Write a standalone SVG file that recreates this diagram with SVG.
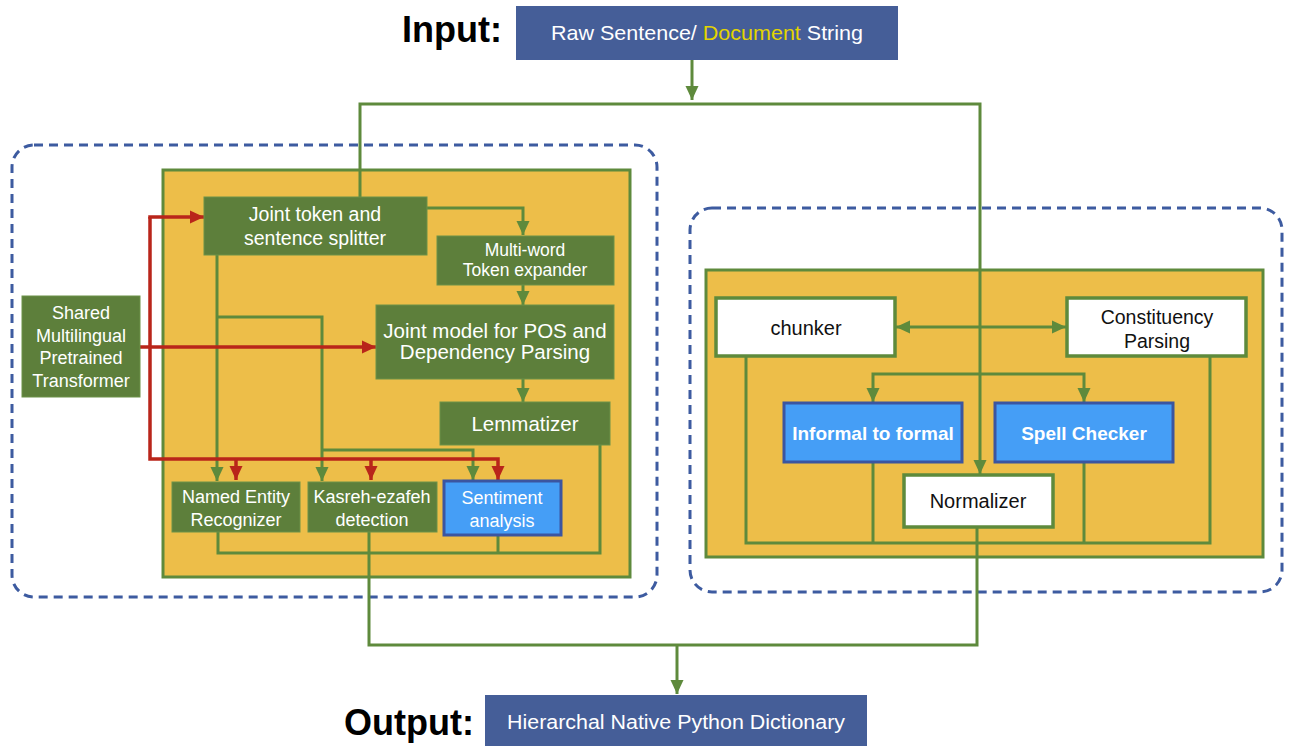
<svg xmlns="http://www.w3.org/2000/svg" width="1290" height="746" viewBox="0 0 1290 746">
<defs>
<style>
.dash{fill:none;stroke:#3D5BA0;stroke-width:3;stroke-dasharray:9 6}
.panel{fill:#EDBE49;stroke:#5E8A3C;stroke-width:3}
.g{fill:#5D7F3B;stroke:#6C9249;stroke-width:1}
.b{fill:#459EF6;stroke:#3B55A0;stroke-width:3}
.w{fill:#FFFFFF;stroke:#5E8A3C;stroke-width:3.5}
.io{fill:#455E98}
text{font-family:"Liberation Sans",Arial,Helvetica,sans-serif;text-anchor:middle}
.tw{fill:#FFFFFF}
.tk{fill:#111111}
.big{font-weight:bold;font-size:36px;fill:#000}
.gl{fill:none;stroke:#5E8A3C;stroke-width:3}
.rl{fill:none;stroke:#B9251A;stroke-width:3.5}
</style>
<marker id="ga" markerUnits="userSpaceOnUse" markerWidth="14" markerHeight="14" viewBox="0 0 14 14" refX="14" refY="7" orient="auto"><path d="M0,0.5 L14,7 L0,13.5 Z" fill="#5E8A3C"/></marker>
<marker id="gs" markerUnits="userSpaceOnUse" markerWidth="14" markerHeight="14" viewBox="0 0 14 14" refX="0" refY="7" orient="auto"><path d="M14,0.5 L0,7 L14,13.5 Z" fill="#5E8A3C"/></marker>
<marker id="ra" markerUnits="userSpaceOnUse" markerWidth="14" markerHeight="14" viewBox="0 0 14 14" refX="14" refY="7" orient="auto"><path d="M0,0.5 L14,7 L0,13.5 Z" fill="#B9251A"/></marker>
</defs>
<rect width="1290" height="746" fill="#FFFFFF"/>

<g id="containers">
<rect class="dash" x="12" y="145" width="645" height="452" rx="22"/>
<rect class="dash" x="690" y="208" width="592" height="384" rx="22"/>
<rect class="panel" x="163" y="170" width="467" height="407"/>
<rect class="panel" x="706" y="270" width="557" height="287"/>
</g>

<g id="connectors">
<path class="gl" d="M692,60 V100" marker-end="url(#ga)"/>
<path class="gl" d="M360,197 V104 H980 V474" marker-end="url(#ga)"/>
<path class="gl" d="M427,208 H523 V235" marker-end="url(#ga)"/>
<path class="gl" d="M523,285 V305" marker-end="url(#ga)"/>
<path class="gl" d="M523,379 V402" marker-end="url(#ga)"/>
<path class="gl" d="M217,255 V481" marker-end="url(#ga)"/>
<path class="gl" d="M217,317 H322 V481" marker-end="url(#ga)"/>
<path class="gl" d="M322,450 H473 V480" marker-end="url(#ga)"/>
<path class="gl" d="M218,532 V553 H600 V445"/>
<path class="gl" d="M498,535 V553"/>
<path class="gl" d="M369,532 V645 H977 V527"/>
<path class="gl" d="M677,645 V694" marker-end="url(#ga)"/>
<path class="gl" d="M896,327 H1066" marker-start="url(#gs)" marker-end="url(#ga)"/>
<path class="gl" d="M873,402 V374 H1084 V402" marker-start="url(#gs)" marker-end="url(#ga)"/>
<path class="gl" d="M746,356 V543 H1210 V356"/>
<path class="gl" d="M873,462 V543"/>
<path class="gl" d="M1084,462 V543"/>
<path class="rl" d="M140,347 H376" marker-end="url(#ra)"/>
<path class="rl" d="M150,217 V459 H498 V480" marker-end="url(#ra)"/>
<path class="rl" d="M236,459 V480" marker-end="url(#ra)"/>
<path class="rl" d="M371,459 V480" marker-end="url(#ra)"/>
<path class="rl" d="M148.25,217 H204" marker-end="url(#ra)"/>
</g>

<g id="input">
<text class="big" x="452" y="42">Input:</text>
<rect class="io" x="516" y="6" width="382" height="54"/>
<text x="707" y="40" font-size="21" class="tw" textLength="312" lengthAdjust="spacingAndGlyphs">Raw Sentence/ <tspan fill="#E3D400">Document</tspan> String</text>
</g>

<g id="output">
<text class="big" x="409" y="735">Output:</text>
<rect class="io" x="485" y="695" width="382" height="51"/>
<text x="676" y="729" font-size="20" class="tw" textLength="338" lengthAdjust="spacingAndGlyphs">Hierarchal Native Python Dictionary</text>
</g>

<g id="joint-token">
<rect class="g" x="204" y="197" width="223" height="58"/>
<text class="tw" font-size="19.5" x="315" y="221">Joint token and</text>
<text class="tw" font-size="19.5" x="315" y="245">sentence splitter</text>
</g>

<g id="multiword">
<rect class="g" x="437" y="236" width="177" height="49"/>
<text class="tw" font-size="17.5" x="525" y="256">Multi-word</text>
<text class="tw" font-size="17.5" x="525" y="276">Token expander</text>
</g>

<g id="joint-model">
<rect class="g" x="376" y="305" width="238" height="74"/>
<text class="tw" font-size="20.5" x="495" y="338">Joint model for POS and</text>
<text class="tw" font-size="20.5" x="495" y="359">Dependency Parsing</text>
</g>

<g id="lemmatizer">
<rect class="g" x="440" y="402" width="170" height="43"/>
<text class="tw" font-size="20.5" x="525" y="431">Lemmatizer</text>
</g>

<g id="ner">
<rect class="g" x="172" y="482" width="128" height="50"/>
<text class="tw" font-size="18" x="236" y="503">Named Entity</text>
<text class="tw" font-size="18" x="236" y="526">Recognizer</text>
</g>

<g id="kasreh">
<rect class="g" x="308" y="482" width="129" height="50"/>
<text class="tw" font-size="18" x="372" y="503">Kasreh-ezafeh</text>
<text class="tw" font-size="18" x="372" y="526">detection</text>
</g>

<g id="sentiment">
<rect class="b" x="444" y="481" width="117" height="54"/>
<text class="tw" font-size="18" x="502" y="504">Sentiment</text>
<text class="tw" font-size="18" x="502" y="527">analysis</text>
</g>

<g id="shared-transformer">
<rect class="g" x="22" y="296" width="118" height="101"/>
<text class="tw" font-size="18" x="81" y="319">Shared</text>
<text class="tw" font-size="18" x="81" y="342">Multilingual</text>
<text class="tw" font-size="18" x="81" y="364">Pretrained</text>
<text class="tw" font-size="18" x="81" y="387">Transformer</text>
</g>

<g id="chunker">
<rect class="w" x="716" y="298" width="179" height="58"/>
<text class="tk" font-size="20" x="806" y="335">chunker</text>
</g>

<g id="constituency">
<rect class="w" x="1067" y="298" width="179" height="58"/>
<text class="tk" font-size="19.5" x="1157" y="324">Constituency</text>
<text class="tk" font-size="19.5" x="1157" y="348">Parsing</text>
</g>

<g id="informal">
<rect class="b" x="784" y="403" width="178" height="59"/>
<text class="tw" font-size="19" font-weight="bold" x="873" y="440">Informal to formal</text>
</g>

<g id="spell">
<rect class="b" x="995" y="403" width="178" height="59"/>
<text class="tw" font-size="19" font-weight="bold" x="1084" y="440">Spell Checker</text>
</g>

<g id="normalizer">
<rect class="w" x="904" y="475" width="149" height="52"/>
<text class="tk" font-size="20" x="978" y="508">Normalizer</text>
</g>
</svg>
